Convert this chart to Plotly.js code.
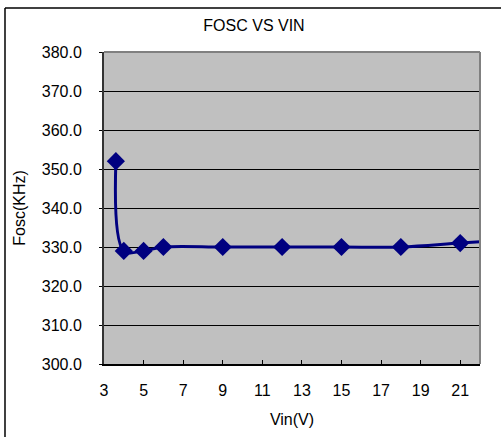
<!DOCTYPE html>
<html>
<head>
<meta charset="utf-8">
<script src="https://cdn.plot.ly/plotly-3.0.1.min.js"></script>
<style>html,body{margin:0;padding:0;background:#fff;}#chart{width:501px;height:437px;}</style>
</head>
<body>
<div id="chart"></div>
<script>
const vin = [3.6, 4, 5, 6, 9, 12, 15, 18, 21, 24];
const fosc = [352, 329, 329, 330, 330, 330, 330, 330, 331, 332];
const xTicks = [3, 5, 7, 9, 11, 13, 15, 17, 19, 21];
const yTicks = [300, 310, 320, 330, 340, 350, 360, 370, 380];

const FONT = "Liberation Sans, Arial, sans-serif";
const trace = {
  x: vin, y: fosc, type: 'scatter', mode: 'lines+markers',
  line: {color: '#000080', width: 3, shape: 'spline', smoothing: 1},
  marker: {symbol: 'diamond', size: 14, color: '#000080'},
  hoverinfo: 'none'
};
const layout = {
  width: 501, height: 437,
  margin: {l: 104, r: 21, t: 52, b: 73, pad: 0},
  paper_bgcolor: '#ffffff', plot_bgcolor: '#C0C0C0',
  font: {family: FONT, size: 16, color: '#000'},
  showlegend: false,
  title: {text: 'FOSC VS VIN', font: {family: FONT, size: 16, color: '#000'},
          x: 0.507, xref: 'container', xanchor: 'center', y: 0.943, yref: 'container', yanchor: 'middle'},
  xaxis: {
    range: [3, 22], tickmode: 'array', tickvals: xTicks, ticktext: xTicks.map(String),
    ticks: 'inside', ticklen: 4, tickcolor: '#000', showgrid: false, zeroline: false,
    showline: true, linecolor: '#000', linewidth: 2, ticklabelstandoff: 11,
    tickfont: {family: FONT, size: 16},
    title: {text: 'Vin(V)', font: {family: FONT, size: 16}, standoff: 16}
  },
  yaxis: {
    range: [300, 380], tickmode: 'array', tickvals: yTicks, ticktext: yTicks.map(v => v.toFixed(1)),
    ticks: 'outside', ticklen: 3, tickcolor: '#000', showgrid: true, gridcolor: '#000', gridwidth: 1,
    zeroline: false, showline: true, linecolor: '#333', linewidth: 2, ticklabelstandoff: 14,
    tickfont: {family: FONT, size: 16},
    title: {text: 'Fosc(KHz)', font: {family: FONT, size: 16}, standoff: 12}
  },
  shapes: [
    {type: 'line', xref: 'paper', yref: 'paper', x0: 0, x1: 1, y0: 1, y1: 1, line: {color: '#808080', width: 2}},
    {type: 'line', xref: 'paper', yref: 'paper', x0: 1, x1: 1, y0: 0, y1: 1, line: {color: '#808080', width: 2}},
    {type: 'line', xref: 'paper', yref: 'paper', x0: -0.2633, x1: -0.2633, y0: 1.141, y1: -0.25, line: {color: '#000', width: 1.5}},
    {type: 'line', xref: 'paper', yref: 'paper', x0: -0.2633, x1: 1.06, y0: 1.141, y1: 1.141, line: {color: '#000', width: 1.5}}
  ]
};
Plotly.newPlot('chart', [trace], layout, {staticPlot: true, displayModeBar: false});
</script>
</body>
</html>
